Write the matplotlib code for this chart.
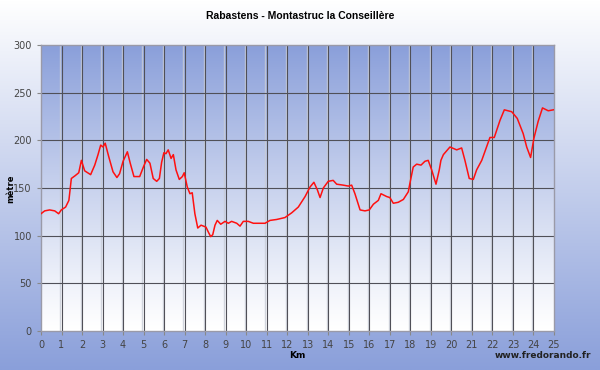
import matplotlib
matplotlib.use("Agg")
import matplotlib.pyplot as plt
import numpy as np
from matplotlib.colors import LinearSegmentedColormap

# profil (km, altitude en m)
km = [0.0, 0.18, 0.42, 0.67, 0.86, 0.99, 1.2, 1.36, 1.48, 1.67, 1.84, 1.97,
      2.13, 2.42, 2.62, 2.78, 2.91, 3.02, 3.13, 3.3, 3.51, 3.7, 3.83, 4.0,
      4.21, 4.35, 4.53, 4.81, 4.99, 5.15, 5.31, 5.47, 5.64, 5.77, 5.88, 5.99,
      6.09, 6.2, 6.34, 6.45, 6.58, 6.74, 6.89, 6.98, 7.13, 7.26, 7.37, 7.5,
      7.64, 7.8, 8.04, 8.15, 8.27, 8.37, 8.48, 8.59, 8.76, 8.97, 9.13, 9.29,
      9.54, 9.7, 9.86, 10.1, 10.35, 10.67, 10.92, 11.16, 11.49, 11.89, 12.22,
      12.54, 12.87, 13.11, 13.3, 13.47, 13.6, 13.76, 14.0, 14.24, 14.41, 14.73,
      14.98, 15.14, 15.3, 15.55, 15.79, 16.0, 16.2, 16.44, 16.57, 16.85, 17.0,
      17.17, 17.41, 17.66, 17.9, 17.98, 18.14, 18.31, 18.52, 18.71, 18.87,
      19.04, 19.25, 19.41, 19.49, 19.61, 19.93, 20.26, 20.5, 20.66, 20.87,
      21.07, 21.23, 21.48, 21.88, 22.09, 22.37, 22.58, 22.94, 23.21, 23.5,
      23.67, 23.86, 24.02, 24.23, 24.44, 24.72, 24.97]
alt = [123, 126, 127, 126, 123, 127, 130, 137, 160, 163, 166, 179,
       168, 164, 174, 185, 195, 193, 197, 183, 167, 161, 165, 178,
       188, 176, 162, 162, 172, 180, 176, 160, 157, 160, 177, 187,
       186, 190, 181, 185, 169, 159, 162, 166, 151, 144, 145, 123,
       108, 111, 109, 104, 99, 101, 111, 116, 112, 115, 113, 115,
       113, 110, 115, 115, 113, 113, 113, 116, 117, 119, 124,
       130, 141, 151, 156, 148, 140, 150, 157, 158, 154, 153,
       152, 153, 144, 127, 126, 127, 133, 137, 144, 141, 140,
       134, 135, 138, 146, 155, 172, 175, 174, 178, 179,
       169, 154, 169, 179, 185, 193, 190, 192, 179, 160,
       159, 169, 179, 203, 203, 221, 232, 230, 223, 207,
       193, 182, 202, 220, 234, 231, 232]

xticks = list(range(0, 26))
yticks = [0, 50, 100, 150, 200, 250, 300]

blue = np.array([138, 159, 218]) / 255.0
cmap = LinearSegmentedColormap.from_list("bg", [(1, 1, 1), blue])

fig = plt.figure(figsize=(6, 3.7), dpi=100)

# fond de la figure : blanc en haut, bleu en bas
bg = fig.add_axes([0, 0, 1, 1], zorder=-10)
grad = np.linspace(0, 1, 256).reshape(-1, 1)
bg.imshow(grad, cmap=cmap, aspect="auto", extent=[0, 1, 0, 1], origin="upper")
bg.set_axis_off()

ax = fig.add_axes([0.0683, 0.1054, 0.855, 0.773])
ax.set_facecolor("none")
# fond du graphique : bleu en haut, blanc en bas
ax.imshow(np.linspace(0, 1, 256).reshape(-1, 1) ** 1.1, cmap=cmap, aspect="auto",
          extent=[0, 25, 0, 300], origin="lower", zorder=0)

for x in xticks[1:-1]:
    ax.axvline(x - 0.06, color="#c8ccd6", lw=1.0, alpha=0.8, zorder=1)
    ax.axvline(x, color="#505058", lw=0.8, zorder=2)
for y in yticks[1:-1]:
    ax.axhline(y, color="#505058", lw=0.8, zorder=2)

ax.plot(km, alt, color="#ff1010", lw=1.1, zorder=3)

ax.set_xlim(0, 25)
ax.set_ylim(0, 300)
ax.set_xticks(xticks)
ax.set_yticks(yticks)
ax.tick_params(colors="#888888", labelcolor="#444444", labelsize=7, length=3, width=0.8)
for s in ax.spines.values():
    s.set_color("#9a9aa8")
    s.set_linewidth(1)

fig.text(0.5, 0.957, "Rabastens - Montastruc la Conseillère", ha="center", va="center",
         fontsize=7.5, fontweight="bold", family="Liberation Sans")
ax.set_xlabel("Km", fontsize=6.5, fontweight="bold", labelpad=1)
fig.text(0.018, 0.49, "mètre", rotation=90, ha="center", va="center",
         fontsize=6, fontweight="bold")
fig.text(0.985, 0.04, "www.fredorando.fr", ha="right", va="center",
         fontsize=6.5, fontweight="bold", color="#222222")

fig.savefig("out.png", dpi=100)
